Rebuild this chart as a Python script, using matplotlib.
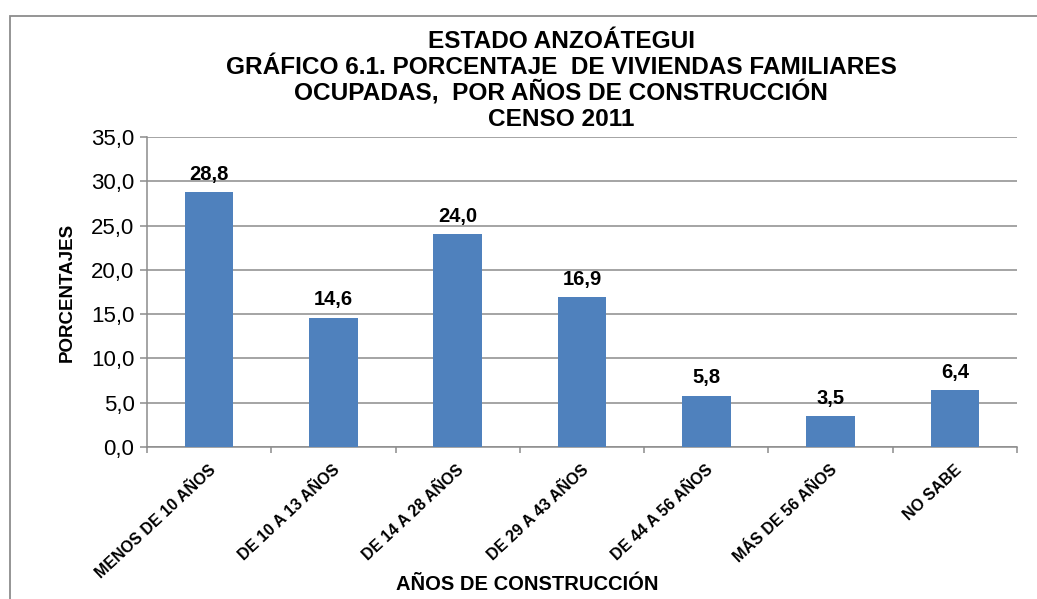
import matplotlib
matplotlib.use("Agg")
import matplotlib.pyplot as plt
from matplotlib.patches import Rectangle

categories = ["MENOS DE 10 AÑOS", "DE 10 A 13 AÑOS", "DE 14 A 28 AÑOS", "DE 29 A 43 AÑOS",
              "DE 44 A 56 AÑOS", "MÁS DE 56 AÑOS", "NO SABE"]
values = [28.8, 14.6, 24.0, 16.9, 5.8, 3.5, 6.4]
yticks = [0, 5, 10, 15, 20, 25, 30, 35]
title_lines = ["ESTADO ANZOÁTEGUI",
               "GRÁFICO 6.1. PORCENTAJE  DE VIVIENDAS FAMILIARES",
               "OCUPADAS,  POR AÑOS DE CONSTRUCCIÓN",
               "CENSO 2011"]

plt.rcParams['font.family'] = ['Liberation Sans', 'DejaVu Sans']

W, H = 1037, 599
fig = plt.figure(figsize=(W/100, H/100), dpi=100)
fig.patch.set_facecolor('white')

# outer frame
fig.add_artist(Rectangle((9.5/W, -0.1), 1.2, 1 - 16/H + 0.1, transform=fig.transFigure,
                         fill=False, edgecolor='#8c8c8c', linewidth=1.3))

ax = fig.add_axes([147/W, (H-447)/H, 870/W, 310/H])
x = range(len(categories))
ax.bar(x, values, width=0.39, color='#4F81BD', zorder=3)
ax.set_xlim(-0.5, len(categories)-0.5)
ax.set_ylim(0, 35)
ax.set_yticks(yticks)
ax.set_yticklabels([f"{v:.1f}".replace('.', ',') for v in yticks], fontsize=16)
ax.grid(axis='y', color='#8c8c8c', linewidth=1.1, zorder=0)
for s in ['top', 'right']:
    ax.spines[s].set_visible(False)
for s in ['left', 'bottom']:
    ax.spines[s].set_color('#8c8c8c')
    ax.spines[s].set_linewidth(1.1)
ax.tick_params(axis='y', length=5, color='#8c8c8c', width=1.1, pad=4)
ax.set_xticks([i - 0.5 for i in range(len(categories)+1)], minor=False)
ax.set_xticklabels([])
ax.tick_params(axis='x', length=4, color='#8c8c8c', width=1.1)
for i, c in enumerate(categories):
    ax.annotate(c, xy=(i, 0), xycoords=('data', 'axes fraction'),
                xytext=(3, -15), textcoords='offset points',
                rotation=43, ha='right', va='center', rotation_mode='anchor',
                fontsize=11.5, fontweight='bold')
for i, v in enumerate(values):
    ax.annotate(f"{v:.1f}".replace('.', ','), xy=(i, v), xytext=(0, 6),
                textcoords='offset points', ha='center', va='bottom',
                fontsize=14.5, fontweight='bold')

ax.set_ylabel("PORCENTAJES", fontsize=13.5, fontweight='bold', labelpad=11)

ys = [42, 67, 93, 120]
for t, yy in zip(title_lines, ys):
    fig.text(561/W, 1 - yy/H, t, ha='center', va='center', fontsize=17.6, fontweight='bold')

fig.text(527/W, 1 - 585/H, "AÑOS DE CONSTRUCCIÓN", ha='center', va='center',
         fontsize=14.5, fontweight='bold')

fig.savefig("out.png", dpi=100)
